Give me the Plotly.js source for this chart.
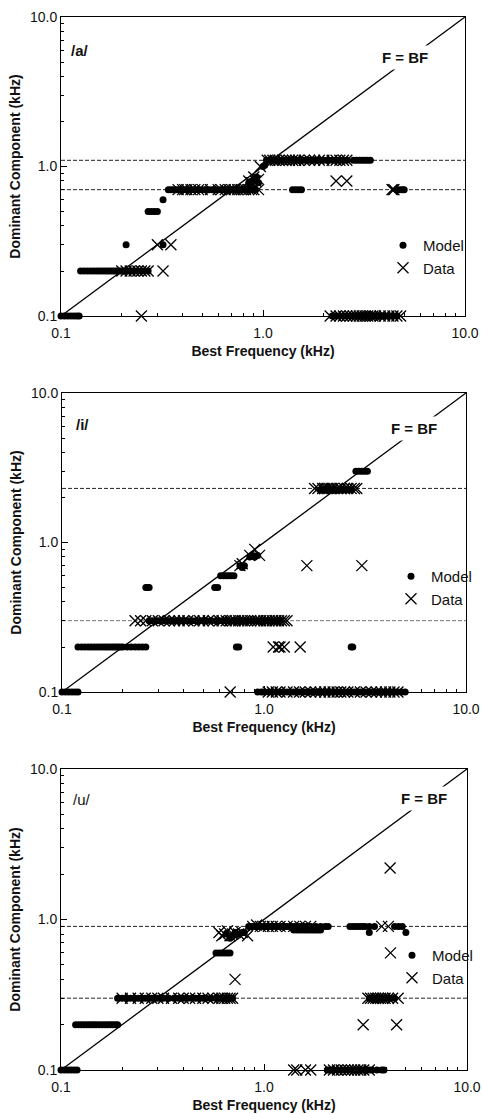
<!DOCTYPE html>
<html><head><meta charset="utf-8">
<script src="https://cdn.plot.ly/plotly-3.0.1.min.js"></script>
<style>html,body{margin:0;padding:0;background:#fff}</style>
</head><body><div id="c" style="width:482px;height:1114px"></div>
<script>
// ---------- Panel /a/ ----------
const aModelX = [0.1,0.104,0.108,0.112,0.116,0.12,0.123,
 0.125,0.13,0.135,0.14,0.145,0.15,0.155,0.16,0.165,0.17,0.175,0.18,0.185,0.19,0.195,0.2,0.205,0.21,0.22,0.23,0.24,0.25,0.26,0.27,
 0.21,0.32,
 0.27,0.28,0.29,0.3,
 0.32,
 0.34,0.35,0.36,0.37,0.38,0.39,0.4,0.42,0.44,0.46,0.48,0.5,0.52,0.54,0.56,0.58,0.6,0.62,0.64,0.66,0.68,0.7,0.72,0.74,0.76,0.78,0.8,0.82,0.84,0.86,0.88,0.9,0.92,
 0.85,0.88,0.9,0.92,0.95,0.93,
 1.0,1.02,
 1.04,1.07,1.1,1.13,1.16,1.2,1.24,1.28,1.32,1.36,1.4,1.45,1.5,1.55,1.6,1.65,1.7,1.75,1.8,1.9,2.0,2.1,2.2,2.3,2.4,2.5,2.6,2.8,2.9,3.0,3.1,3.2,3.3,3.4,
 1.4,1.45,1.5,1.55,
 4.6,4.75,4.9,5.0,
 2.2,2.3,2.4,2.5,2.6,2.7,2.8,2.9,3.0,3.1,3.2,3.3,3.4,3.5,3.6,3.7,3.8,3.9,4.0,4.2,4.4,4.6];
const aModelY = [0.1,0.1,0.1,0.1,0.1,0.1,0.1,
 0.2,0.2,0.2,0.2,0.2,0.2,0.2,0.2,0.2,0.2,0.2,0.2,0.2,0.2,0.2,0.2,0.2,0.2,0.2,0.2,0.2,0.2,0.2,0.2,
 0.3,0.3,
 0.5,0.5,0.5,0.5,
 0.6,
 0.7,0.7,0.7,0.7,0.7,0.7,0.7,0.7,0.7,0.7,0.7,0.7,0.7,0.7,0.7,0.7,0.7,0.7,0.7,0.7,0.7,0.7,0.7,0.7,0.7,0.7,0.7,0.7,0.7,0.7,0.7,0.7,0.7,
 0.78,0.8,0.82,0.8,0.78,0.85,
 1.0,1.02,
 1.1,1.1,1.1,1.1,1.1,1.1,1.1,1.1,1.1,1.1,1.1,1.1,1.1,1.1,1.1,1.1,1.1,1.1,1.1,1.1,1.1,1.1,1.1,1.1,1.1,1.1,1.1,1.1,1.1,1.1,1.1,1.1,1.1,1.1,
 0.7,0.7,0.7,0.7,
 0.7,0.7,0.7,0.7,
 0.1,0.1,0.1,0.1,0.1,0.1,0.1,0.1,0.1,0.1,0.1,0.1,0.1,0.1,0.1,0.1,0.1,0.1,0.1,0.1,0.1,0.1];
const aDataX = [0.25,2.15,2.3,2.4,2.5,2.6,2.7,2.8,2.9,3.0,3.1,3.2,3.3,3.4,3.5,3.6,3.8,4.0,4.2,4.4,4.6,4.8,
 0.2,0.21,0.22,0.23,0.24,0.25,0.26,0.27,0.32,
 0.3,0.35,
 0.38,0.4,0.41,0.42,0.44,0.46,0.48,0.5,0.55,0.6,0.62,0.65,0.68,0.7,0.72,0.75,0.78,0.8,0.82,0.85,0.88,0.9,0.95,
 0.85,0.88,0.9,0.95,0.92,
 0.97,
 1.05,1.08,1.12,1.15,1.2,1.25,1.3,1.35,1.4,1.45,1.5,1.6,1.7,1.8,1.9,2.0,2.2,2.3,2.4,2.5,2.6,
 2.3,2.6,
 4.35,4.4,4.45];
const aDataY = [0.1,0.1,0.1,0.1,0.1,0.1,0.1,0.1,0.1,0.1,0.1,0.1,0.1,0.1,0.1,0.1,0.1,0.1,0.1,0.1,0.1,0.1,
 0.2,0.2,0.2,0.2,0.2,0.2,0.2,0.2,0.2,
 0.3,0.3,
 0.7,0.7,0.7,0.7,0.7,0.7,0.7,0.7,0.7,0.7,0.7,0.7,0.7,0.7,0.7,0.7,0.7,0.7,0.7,0.7,0.7,0.7,0.7,
 0.8,0.78,0.85,0.82,0.8,
 1.0,
 1.1,1.1,1.1,1.1,1.1,1.1,1.1,1.1,1.1,1.1,1.1,1.1,1.1,1.1,1.1,1.1,1.1,1.1,1.1,1.1,1.1,
 0.8,0.8,
 0.7,0.7,0.7];
const aRefLines = [1.1, 0.7];

// ---------- Panel /i/ ----------
const iModelX = [0.1,0.104,0.108,0.112,0.116,0.12,
 0.12,0.125,0.13,0.135,0.14,0.145,0.15,0.155,0.16,0.165,0.17,0.175,0.18,0.185,0.19,0.195,0.2,0.21,0.22,0.23,0.24,0.25,0.26,
 0.26,0.265,0.27,
 0.27,0.28,0.29,0.3,0.31,0.32,0.33,0.34,0.36,0.38,0.4,0.42,0.44,0.46,0.48,0.5,0.52,0.55,0.58,0.6,0.63,0.66,0.7,0.73,0.76,0.8,0.84,0.88,0.92,0.96,1.0,1.05,1.1,1.15,1.2,
 0.57,0.59,
 0.61,0.63,0.65,0.67,0.69,0.71,
 0.76,0.78,0.8,
 0.85,0.88,0.9,0.93,
 0.73,0.75,2.7,2.75,
 0.93,0.97,1.0,1.05,1.1,1.15,1.2,1.25,1.3,1.35,1.4,1.45,1.5,1.6,1.7,1.8,1.9,2.0,2.1,2.2,2.3,2.4,2.5,2.6,2.7,2.8,2.9,3.0,3.2,3.4,3.6,3.8,4.0,4.2,4.4,4.6,4.8,5.0,
 1.9,1.95,2.0,2.05,2.1,2.15,2.2,2.25,2.3,2.35,2.4,2.45,2.5,2.55,2.6,2.7,
 2.85,2.95,3.05,3.15,3.25];
const iModelY = [0.1,0.1,0.1,0.1,0.1,0.1,
 0.2,0.2,0.2,0.2,0.2,0.2,0.2,0.2,0.2,0.2,0.2,0.2,0.2,0.2,0.2,0.2,0.2,0.2,0.2,0.2,0.2,0.2,0.2,
 0.5,0.5,0.5,
 0.3,0.3,0.3,0.3,0.3,0.3,0.3,0.3,0.3,0.3,0.3,0.3,0.3,0.3,0.3,0.3,0.3,0.3,0.3,0.3,0.3,0.3,0.3,0.3,0.3,0.3,0.3,0.3,0.3,0.3,0.3,0.3,0.3,0.3,0.3,
 0.5,0.5,
 0.6,0.6,0.6,0.6,0.6,0.6,
 0.7,0.68,0.7,
 0.8,0.82,0.8,0.82,
 0.2,0.2,0.2,0.2,
 0.1,0.1,0.1,0.1,0.1,0.1,0.1,0.1,0.1,0.1,0.1,0.1,0.1,0.1,0.1,0.1,0.1,0.1,0.1,0.1,0.1,0.1,0.1,0.1,0.1,0.1,0.1,0.1,0.1,0.1,0.1,0.1,0.1,0.1,0.1,0.1,0.1,0.1,
 2.25,2.25,2.25,2.25,2.25,2.25,2.25,2.25,2.25,2.25,2.25,2.25,2.25,2.25,2.25,2.25,
 3.0,3.0,3.0,3.0,3.0];
const iDataX = [0.23,0.245,0.26,0.28,0.3,0.32,0.34,0.36,0.38,0.4,0.42,0.45,0.48,0.5,0.53,0.56,0.6,0.62,0.65,0.68,0.7,0.72,0.75,0.78,0.8,0.83,0.86,0.9,0.93,0.96,1.0,1.03,1.06,1.1,1.14,1.18,1.22,1.26,1.3,
 0.76,0.78,0.85,0.95,0.9,
 1.63,3.05,
 1.11,1.18,1.2,1.26,1.51,
 0.68,1.05,1.1,1.15,1.2,1.3,1.4,1.5,1.6,1.7,1.8,1.9,2.0,2.1,2.2,2.3,2.4,2.5,2.6,2.8,3.0,3.2,3.4,3.6,3.8,4.0,4.2,4.4,4.6,
 1.78,1.85,1.95,2.0,2.05,2.1,2.15,2.2,2.3,2.4,2.5,2.6,2.7,2.8,2.88];
const iDataY = [0.3,0.3,0.3,0.3,0.3,0.3,0.3,0.3,0.3,0.3,0.3,0.3,0.3,0.3,0.3,0.3,0.3,0.3,0.3,0.3,0.3,0.3,0.3,0.3,0.3,0.3,0.3,0.3,0.3,0.3,0.3,0.3,0.3,0.3,0.3,0.3,0.3,0.3,0.3,
 0.7,0.72,0.82,0.82,0.9,
 0.7,0.7,
 0.2,0.2,0.2,0.2,0.2,
 0.1,0.1,0.1,0.1,0.1,0.1,0.1,0.1,0.1,0.1,0.1,0.1,0.1,0.1,0.1,0.1,0.1,0.1,0.1,0.1,0.1,0.1,0.1,0.1,0.1,0.1,0.1,0.1,0.1,
 2.3,2.3,2.3,2.3,2.3,2.3,2.3,2.3,2.3,2.3,2.3,2.3,2.3,2.3,2.3];
const iRefLines = [2.3, 0.3];

// ---------- Panel /u/ ----------
const uModelX = [0.1,0.104,0.108,0.112,0.116,0.12,
 0.118,0.122,0.126,0.13,0.134,0.138,0.142,0.146,0.15,0.155,0.16,0.165,0.17,0.175,0.18,0.185,0.19,
 0.19,0.2,0.21,0.22,0.23,0.24,0.25,0.26,0.27,0.28,0.29,0.3,0.31,0.32,0.34,0.36,0.38,0.4,0.42,0.44,0.46,0.48,0.5,0.52,0.55,0.58,0.6,0.63,0.66,0.7,
 0.58,0.6,0.62,0.64,0.66,0.68,
 0.65,0.68,0.7,0.72,0.75,0.78,0.8,
 0.84,0.87,0.9,0.93,0.96,1.0,1.03,1.06,1.1,1.14,1.18,1.22,1.26,1.3,1.35,1.4,1.45,1.5,1.55,1.6,1.65,1.7,1.8,1.9,2.0,2.07,
 1.4,1.45,1.5,1.55,1.6,1.65,1.7,1.75,1.8,1.85,1.9,
 2.65,2.75,2.85,2.95,3.05,3.15,3.3,3.5,4.4,4.6,4.8,
 3.3,5.0,
 3.3,3.4,3.5,3.6,3.7,3.8,3.9,4.0,4.2,4.4,
 2.05,2.1,2.15,2.2,2.3,2.4,2.5,2.6,2.7,2.8,2.9,3.0,3.1,3.2,3.3,3.4,3.6,3.8,3.9];
const uModelY = [0.1,0.1,0.1,0.1,0.1,0.1,
 0.2,0.2,0.2,0.2,0.2,0.2,0.2,0.2,0.2,0.2,0.2,0.2,0.2,0.2,0.2,0.2,0.2,
 0.3,0.3,0.3,0.3,0.3,0.3,0.3,0.3,0.3,0.3,0.3,0.3,0.3,0.3,0.3,0.3,0.3,0.3,0.3,0.3,0.3,0.3,0.3,0.3,0.3,0.3,0.3,0.3,0.3,0.3,
 0.6,0.6,0.6,0.6,0.6,0.6,
 0.8,0.75,0.78,0.82,0.8,0.82,0.82,
 0.9,0.9,0.9,0.9,0.9,0.9,0.9,0.9,0.9,0.9,0.9,0.9,0.9,0.9,0.9,0.9,0.9,0.9,0.9,0.9,0.9,0.9,0.9,0.9,0.9,0.9,
 0.85,0.85,0.85,0.85,0.85,0.85,0.85,0.85,0.85,0.85,0.85,
 0.9,0.9,0.9,0.9,0.9,0.9,0.9,0.9,0.9,0.9,0.9,
 0.82,0.82,
 0.3,0.3,0.3,0.3,0.3,0.3,0.3,0.3,0.3,0.3,
 0.1,0.1,0.1,0.1,0.1,0.1,0.1,0.1,0.1,0.1,0.1,0.1,0.1,0.1,0.1,0.1,0.1,0.1,0.1];
const uDataX = [0.2,0.22,0.24,0.26,0.28,0.3,0.32,0.35,0.38,0.4,0.43,0.46,0.5,0.53,0.56,0.6,0.62,0.64,0.66,0.68,0.7,
 0.6,0.62,0.64,0.66,0.68,0.7,0.72,0.75,0.78,0.83,0.88,0.92,0.96,
 0.72,
 1.0,1.05,1.1,1.15,1.2,1.3,1.4,1.5,1.6,1.7,3.8,4.1,
 4.18,4.2,
 3.25,3.35,3.45,3.55,3.65,3.75,3.85,3.95,4.1,4.3,4.58,
 3.08,4.5,
 1.4,1.45,1.6,1.7,2.1,2.2,2.3,2.4,2.5,2.6,2.7,2.8,2.9,3.0,3.1,3.3];
const uDataY = [0.3,0.3,0.3,0.3,0.3,0.3,0.3,0.3,0.3,0.3,0.3,0.3,0.3,0.3,0.3,0.3,0.3,0.3,0.3,0.3,0.3,
 0.82,0.78,0.8,0.84,0.78,0.8,0.82,0.8,0.82,0.78,0.9,0.92,0.9,
 0.4,
 0.9,0.9,0.9,0.9,0.9,0.9,0.9,0.9,0.9,0.9,0.9,0.9,
 2.2,0.6,
 0.3,0.3,0.3,0.3,0.3,0.3,0.3,0.3,0.3,0.3,0.3,
 0.2,0.2,
 0.1,0.1,0.1,0.1,0.1,0.1,0.1,0.1,0.1,0.1,0.1,0.1,0.1,0.1,0.1,0.1];
const uRefLines = [0.9, 0.3];

const panelLabels = ['/a/', '/i/', '/u/'];
const identityX = [0.1, 10];
const identityY = [0.1, 10];
const tickVals = [0.1, 1, 10];
const tickText = ['0.1', '1.0', '10.0'];
const minorVals = [0.2,0.3,0.4,0.5,0.6,0.7,0.8,0.9,2,3,4,5,6,7,8,9];

const FONT = 'Liberation Sans, Arial, Helvetica, sans-serif';
const W = 482, H = 1114;
// plot-area pixel boxes [left, top, right, bottom]
const boxes = [[61,17,465,316],[62,393,466,692],[61,769,467,1070]];
const legendTop = [[383,229],[391,560],[392,939]];
const fbfPos = [[405,57],[414,428],[424,798]];
const labelPos = [[80,50],[82,424],[82,799]];

const panels = [
  {mx:aModelX,my:aModelY,dx:aDataX,dy:aDataY,ref:aRefLines,refColor:['#222','#222']},
  {mx:iModelX,my:iModelY,dx:iDataX,dy:iDataY,ref:iRefLines,refColor:['#222','#777']},
  {mx:uModelX,my:uModelY,dx:uDataX,dy:uDataY,ref:uRefLines,refColor:['#222','#222']}
];

const traces = [];
const layout = {width:W,height:H,margin:{l:0,r:0,t:0,b:0},paper_bgcolor:'#fff',plot_bgcolor:'#fff',
  font:{family:FONT,color:'#111'},annotations:[],showlegend:true};

panels.forEach((p,k)=>{
  const s = k===0 ? '' : String(k+1);
  const xa = 'x'+s, ya = 'y'+s;
  const lg = k===0 ? 'legend' : 'legend'+(k+1);
  const b = boxes[k];
  const axCommon = {type:'log',range:[-1,1],tickmode:'array',tickvals:tickVals,ticktext:tickText,
    ticks:'inside',ticklen:6,tickwidth:1,tickcolor:'#000',showline:true,linecolor:'#000',linewidth:1,mirror:true,
    showgrid:false,zeroline:false,tickfont:{size:14,family:FONT,color:'#111'},
    minor:{tickmode:'array',tickvals:minorVals,ticks:'inside',ticklen:3,tickcolor:'#000',showgrid:false}};
  layout['xaxis'+s] = Object.assign({},axCommon,{domain:[b[0]/W,b[2]/W],anchor:ya,ticklabelstandoff:4,
    title:{text:'<b>Best Frequency (kHz)</b>',font:{size:14,family:FONT,color:'#111'},standoff:6}});
  layout['yaxis'+s] = Object.assign({},axCommon,{domain:[1-b[3]/H,1-b[1]/H],anchor:xa,
    title:{text:'<b>Dominant Component (kHz)</b>',font:{size:14,family:FONT,color:'#111'},standoff:6}});
  p.ref.forEach((v,j)=>{
    traces.push({x:identityX,y:[v,v],xaxis:xa,yaxis:ya,mode:'lines',showlegend:false,hoverinfo:'skip',
      line:{color:p.refColor[j],width:1,dash:'4px,2px'}});
  });
  traces.push({x:identityX,y:identityY,xaxis:xa,yaxis:ya,mode:'lines',showlegend:false,hoverinfo:'skip',
    line:{color:'#000',width:1.3}});
  traces.push({x:p.mx,y:p.my,xaxis:xa,yaxis:ya,mode:'markers',name:'Model',legend:lg,cliponaxis:false,
    marker:{symbol:'circle',size:7,color:'#000'}});
  traces.push({x:p.dx,y:p.dy,xaxis:xa,yaxis:ya,mode:'markers',name:'Data',legend:lg,cliponaxis:false,
    marker:{symbol:'x-thin-open',size:11,color:'#000',line:{width:1.3,color:'#000'}}});
  layout[lg] = {x:legendTop[k][0]/W,y:1-legendTop[k][1]/H,xanchor:'left',yanchor:'top',
    bgcolor:'rgba(0,0,0,0)',borderwidth:0,font:{size:15,family:FONT,color:'#111'},itemwidth:30,tracegroupgap:0};
  layout.annotations.push({xref:'paper',yref:'paper',x:fbfPos[k][0]/W,y:1-fbfPos[k][1]/H,
    text:'<b>F = BF</b>',showarrow:false,font:{size:15,family:FONT,color:'#111'},bgcolor:'#fff',borderpad:3,
    xanchor:'center',yanchor:'middle'});
  layout.annotations.push({xref:'paper',yref:'paper',x:labelPos[k][0]/W,y:1-labelPos[k][1]/H,
    text:k===2?panelLabels[k]:'<b>'+panelLabels[k]+'</b>',showarrow:false,font:{size:15,family:FONT,color:'#111'},
    xanchor:'center',yanchor:'middle'});
});

Plotly.newPlot('c',traces,layout,{staticPlot:true,displayModeBar:false});
</script>
</body></html>
